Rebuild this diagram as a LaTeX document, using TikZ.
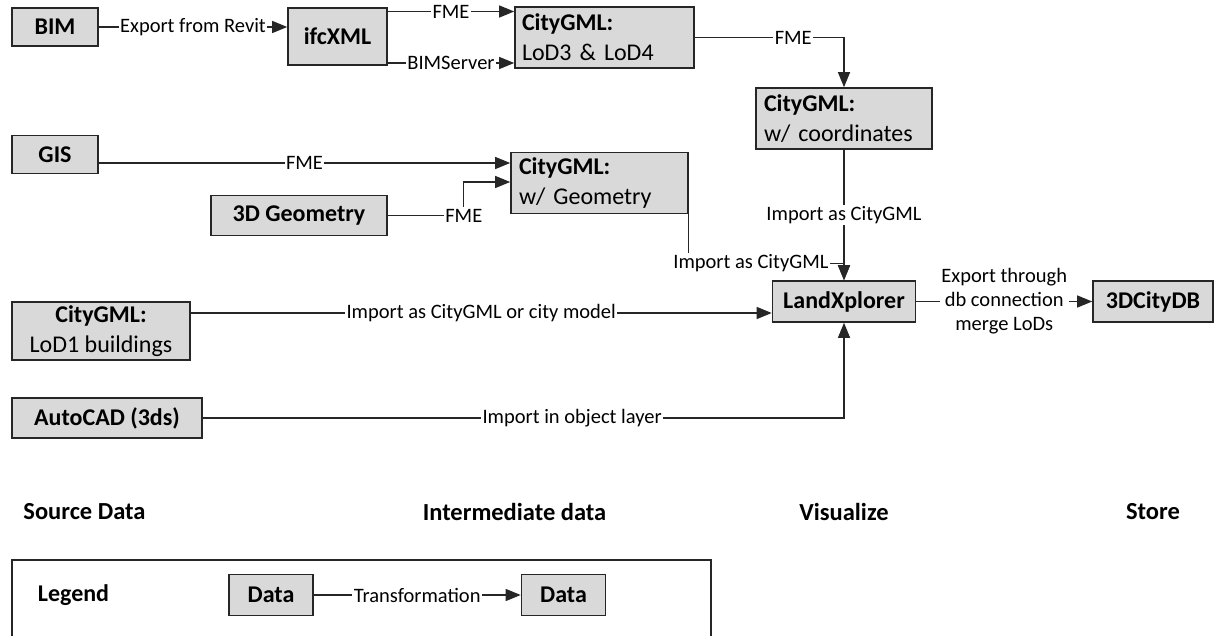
\documentclass[tikz,border=0pt]{standalone}
\usepackage{fontspec}
\setmainfont{Carlito}
\usepackage{tikz}
\usetikzlibrary{positioning,arrows.meta}

\definecolor{boxgray}{HTML}{D9D9D9}
\definecolor{linegray}{HTML}{262626}

\begin{document}
\begin{tikzpicture}[node distance={100pt},
  main/.style = {draw=linegray, fill=boxgray, line width=1.6pt, minimum height=38pt, inner sep=0pt, font=\fontsize{24}{30}\selectfont\bfseries},
  two/.style = {main, minimum height=61pt, font=\fontsize{24}{30}\selectfont, align=left, inner xsep=8pt},
  lbl/.style = {fill=white, inner sep=1.5pt, font=\fontsize{20.5}{24}\selectfont},
  arr/.style = {draw=linegray, line width=1.3pt, -{Triangle[length=15pt,width=12pt]}},
  head/.style = {font=\fontsize{24.5}{30}\selectfont\bfseries}]
\useasboundingbox (0pt,0pt) rectangle (1215pt,-636pt);
\node[main, minimum width=86pt] (1) at (55pt,-27pt) {BIM};
\node[main, minimum width=99pt, minimum height=57pt] (2) [right of=1, xshift=182.5pt, yshift=-9.5pt] {ifcXML};
\node[two, text width=165pt, inner xsep=7pt] (3) [right of=2, xshift=167pt, yshift=-1pt] {{\bfseries CityGML:}\\LoD3 \& LoD4};
\node[two, text width=160pt] (4) [right of=3, xshift=139.5pt, yshift=-81pt] {{\bfseries CityGML:}\\w/ coordinates};
\node[main, minimum width=86pt] (5) [below of=1, yshift=-27.5pt] {GIS};
\node[two, text width=161pt] (6) [right of=5, xshift=444.5pt, yshift=-28.5pt] {{\bfseries CityGML:}\\w/ Geometry};
\node[main, minimum width=176pt, minimum height=40pt] (7) [below of=6, xshift=-300.5pt, yshift=67.5pt] {3D Geometry};
\node[two, minimum width=178pt, minimum height=58pt, align=center] (8) [below of=5, xshift=46pt, yshift=-76.5pt] {{\bfseries CityGML:}\\LoD1 buildings};
\node[main, minimum width=190pt, minimum height=40pt] (9) [below of=8, xshift=6pt, yshift=13pt] {AutoCAD (3ds)};
\node[main, minimum width=143pt, minimum height=41pt] (10) [below of=4, yshift=-83pt] {LandXplorer};
\node[main, minimum width=120pt, minimum height=41pt] (11) [right of=10, xshift=209pt] {3DCityDB};

% column titles
\node[head] (h1) [below of=9, xshift=-22.5pt, yshift=6pt] {Source Data};
\node[head] (h2) [right of=h1, xshift=330pt] {Intermediate data};
\node[head] (h3) [below of=10, yshift=-110.5pt] {Visualize};
\node[head] (h4) [below of=11, yshift=-110.5pt] {Store};

% legend
\draw[linegray, line width=1.3pt] (12pt,-640pt) |- (711pt,-560pt) -- (711pt,-640pt);
\node[head, font=\fontsize{24}{30}\selectfont\bfseries] (leg) [below of=h1, xshift=-11pt, yshift=17pt] {Legend};
\node[main, minimum width=84pt, minimum height=41pt] (d1) [right of=leg, xshift=97.5pt] {Data};
\node[main, minimum width=84pt, minimum height=41pt] (d2) [right of=d1, xshift=192.5pt] {Data};

\draw[arr] (1.east) -- node[lbl]{Export from Revit} (1.east -| 2.west);
\draw[arr] ([yshift=25pt]2.east) -- node[lbl]{FME} ([yshift=25pt]2.east -| 3.west);
\draw[arr] ([yshift=-26.5pt]2.east) -- node[lbl]{BIMServer} ([yshift=-26.5pt]2.east -| 3.west);
\draw[arr] (3.east) -- node[lbl, pos=0.66]{FME} (3.east -| 4.north) -- (4.north);
\draw[arr] ([yshift=-8.5pt]5.east) -- node[lbl]{FME} ([yshift=-8.5pt]5.east -| 6.west);
\draw[arr] (7.east) -- ++(76pt,0pt) node[lbl]{FME} |- ([yshift=1pt]6.west);
\draw[arr] (6.south east) |- node[lbl, pos=0.7]{Import as CityGML} ([yshift=17pt]10.north) -- (10.north);
\draw[arr] (4) -- node[lbl]{Import as CityGML} (10);
\draw[arr] ([yshift=-11.5pt]10.west -| 8.east) -- node[lbl]{Import as CityGML or city model} ([yshift=-11.5pt]10.west);
\draw[arr] (9.east) -- node[lbl, pos=0.576]{Import in object layer} (9.east -| 10.south) -- (10.south);
\draw[arr] (10) -- node[lbl, align=center]{Export through\\db connection\\merge LoDs} (11);
\draw[arr] (d1) -- node[lbl]{Transformation} (d2);
\end{tikzpicture}
\end{document}
